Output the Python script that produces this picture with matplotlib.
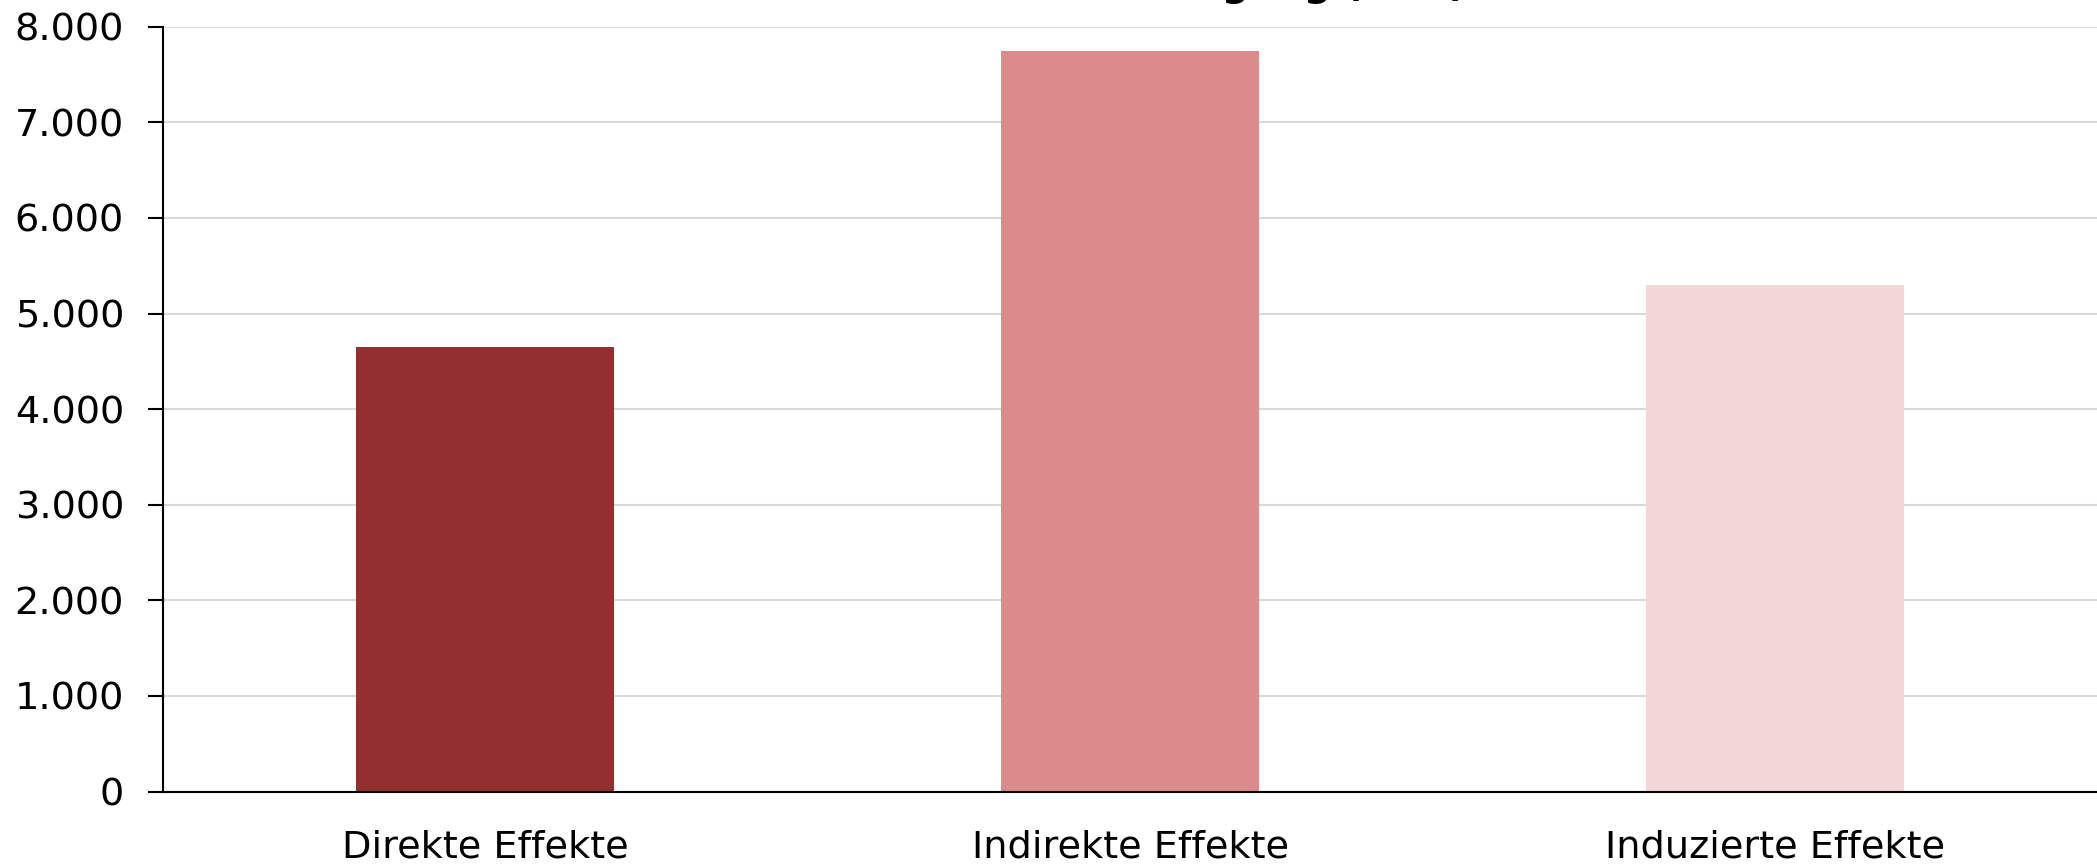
import matplotlib
matplotlib.use("Agg")
import matplotlib.pyplot as plt
from matplotlib.ticker import FuncFormatter

categories = ["Direkte Effekte", "Indirekte Effekte", "Induzierte Effekte"]
values = [4650, 7750, 5300]
colors = ["#922F2F", "#DB8B8B", "#F2D7D8"]
yticks = [0, 1000, 2000, 3000, 4000, 5000, 6000, 7000, 8000]
title = "Beschäftigung (VZÄ)"

plt.rcParams['font.family'] = ['DejaVu Sans']

fig = plt.figure(figsize=(20.97, 8.66), dpi=100)
ax = fig.add_axes([163/2097, (866-791.5)/866, 1 - 163/2097, (791.5-26.7)/866])

x = range(len(categories))
ax.bar(x, values, width=0.4, color=colors, linewidth=0, zorder=3)
ax.set_xlim(-0.5, len(categories) - 0.5)
ax.set_ylim(0, 8000)
ax.set_yticks(yticks)
ax.yaxis.set_major_formatter(FuncFormatter(lambda v, p: f"{int(v):,}".replace(",", ".")))
ax.set_xticks(list(x))
ax.set_xticklabels(categories)

ax.grid(axis='y', color='#d9d9d9', linewidth=1.5, zorder=0)
ax.set_axisbelow(True)
for s in ['top', 'right']:
    ax.spines[s].set_visible(False)
for s in ['left', 'bottom']:
    ax.spines[s].set_color('black')
    ax.spines[s].set_linewidth(1.5)
    ax.spines[s].set_zorder(4)

ax.tick_params(axis='y', length=11, width=1.5, pad=17, labelsize=27.5, color='black')
ax.tick_params(axis='x', length=0, pad=27, labelsize=27.5)

fig.text(1467/2097, 1 + 4/866, title, ha='right', va='baseline', fontsize=27.5,
         fontweight='bold')

fig.savefig("out.png", dpi=100)
